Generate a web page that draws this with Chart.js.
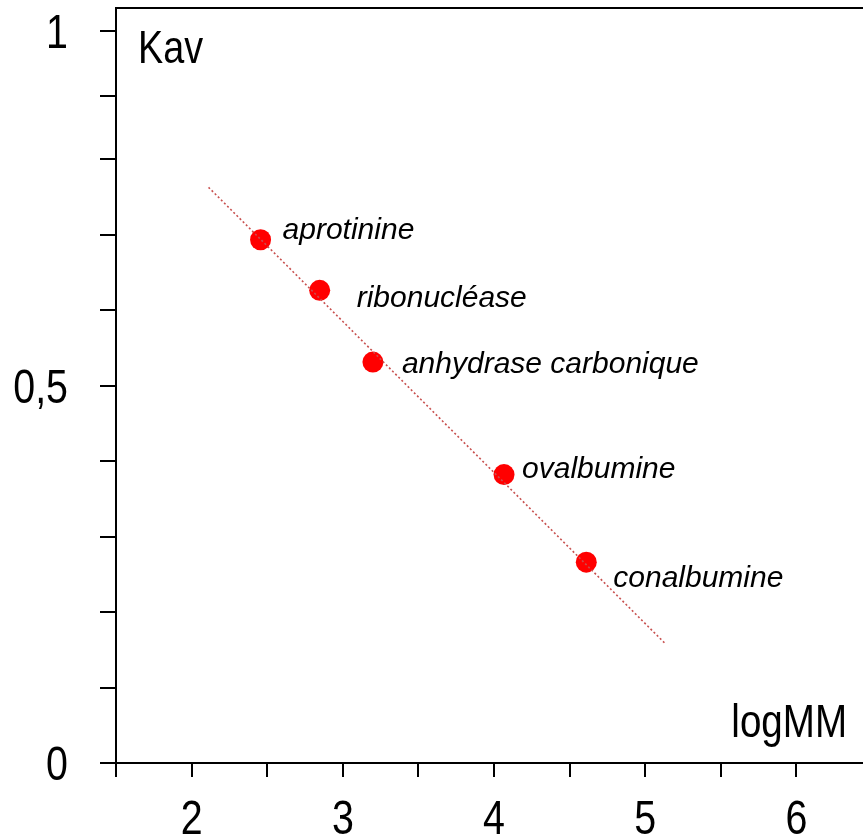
<!DOCTYPE html>
<html>
<head>
<meta charset="utf-8">
<script src="https://cdn.jsdelivr.net/npm/chart.js"></script>
<style type="text/css">
  body { margin: 0; background: #fff; }
  .chartBox { width: 863px; height: 837px; }
</style>
</head>
<body>
  <div class="chartBox">
    <canvas id="myChart"></canvas>
  </div>

  <script>
    // proteins of the calibration
    const proteins = ['aprotinine', 'ribonucléase', 'anhydrase carbonique', 'ovalbumine', 'conalbumine'];
    const logMM = [2.456, 2.847, 3.199, 4.066, 4.610];
    const kav = [0.693, 0.626, 0.531, 0.382, 0.266];

    // regression line ends
    const fitX = [2.112, 5.133];
    const fitY = [0.7625, 0.158];

    // axis ticks
    const xTickValues = [1.5, 2, 2.5, 3, 3.5, 4, 4.5, 5, 5.5, 6];
    const xTickLabels = ['', '2', '', '3', '', '4', '', '5', '', '6'];
    const yTickValues = [0, 0.1, 0.2, 0.3, 0.4, 0.5, 0.6, 0.7, 0.8, 0.883, 0.97];
    const yTickLabels = ['0', '', '', '', '', '0,5', '', '', '', '', '1'];

    const sans = "'Liberation Sans', Arial, sans-serif";
    const squeeze = 0.82; // narrow look of the axis texts
    // label offsets from the dot centre, in px
    const labelOffsets = [[22, -1], [37, 17], [29, 11], [18, 3], [27, 25]];

    function narrowText(ctx, text, x, y, size, align) {
      ctx.save();
      ctx.translate(x, y);
      ctx.scale(squeeze, 1);
      ctx.font = size + 'px ' + sans;
      ctx.textAlign = align;
      ctx.textBaseline = 'alphabetic';
      ctx.fillText(text, 0, 0);
      ctx.restore();
    }

    const labelsPlugin = {
      id: 'labels',
      afterDraw(chart) {
        const ctx = chart.ctx;
        const area = chart.chartArea;
        const meta = chart.getDatasetMeta(1);
        const xs = chart.scales.x;
        const ys = chart.scales.y;
        ctx.save();
        // top frame line
        ctx.strokeStyle = '#000';
        ctx.lineWidth = 2;
        ctx.beginPath();
        ctx.moveTo(area.left, area.top);
        ctx.lineTo(area.right, area.top);
        ctx.stroke();

        ctx.fillStyle = '#000';
        ctx.textBaseline = 'alphabetic';
        ctx.font = "italic 30px " + sans;
        ctx.textAlign = 'left';
        meta.data.forEach((pt, i) => {
          ctx.fillText(proteins[i], pt.x + labelOffsets[i][0], pt.y + labelOffsets[i][1]);
        });

        // tick labels
        xTickValues.forEach((v, i) => {
          if (xTickLabels[i]) narrowText(ctx, xTickLabels[i], xs.getPixelForValue(v), xs.bottom - 3, 48, 'center');
        });
        yTickValues.forEach((v, i) => {
          if (yTickLabels[i]) narrowText(ctx, yTickLabels[i], ys.right - 48, ys.getPixelForValue(v) + 17, 48, 'right');
        });

        narrowText(ctx, 'Kav', area.left + 22, area.top + 55, 46, 'left');
        narrowText(ctx, 'logMM', area.right - 16, area.bottom - 26, 47, 'right');
        ctx.restore();
      }
    };

    var ctx = document.getElementById('myChart').getContext('2d');
    var myChart = new Chart(ctx, {
      type: 'scatter',
      data: {
        datasets: [{
          type: 'line',
          data: fitX.map((x, i) => ({x: x, y: fitY[i]})),
          borderColor: '#c8504f',
          borderWidth: 1.6,
          borderDash: [2, 2.4],
          pointRadius: 0,
          fill: false,
          order: 0
        }, {
          data: logMM.map((x, i) => ({x: x, y: kav[i]})),
          backgroundColor: '#ff0000',
          borderWidth: 0,
          pointRadius: 10.5,
          order: 1
        }]
      },
      options: {
        responsive: true,
        maintainAspectRatio: false,
        animation: false,
        layout: { autoPadding: false, padding: { top: 8, left: 0, right: 0, bottom: 0 } },
        plugins: { legend: false, tooltip: { enabled: false } },
        scales: {
          x: {
            type: 'linear',
            min: 1.5,
            max: 6.44,
            afterBuildTicks: (scale) => { scale.ticks = xTickValues.map(v => ({value: v})); },
            afterFit: (scale) => { scale.height = 74; scale.paddingLeft = 0; scale.paddingRight = 0; },
            border: { display: true, color: '#000', width: 2 },
            grid: { drawOnChartArea: false, drawTicks: true, tickLength: 14, color: '#000', lineWidth: 2 },
            ticks: { display: false }
          },
          y: {
            type: 'linear',
            min: 0,
            max: 1,
            afterBuildTicks: (scale) => { scale.ticks = yTickValues.map(v => ({value: v})); },
            afterFit: (scale) => { scale.width = 116; scale.paddingTop = 0; scale.paddingBottom = 0; },
            border: { display: true, color: '#000', width: 2 },
            grid: { drawOnChartArea: false, drawTicks: true, tickLength: 16, color: '#000', lineWidth: 2 },
            ticks: { display: false }
          }
        }
      },
      plugins: [labelsPlugin]
    });
  </script>

</body>
</html>
